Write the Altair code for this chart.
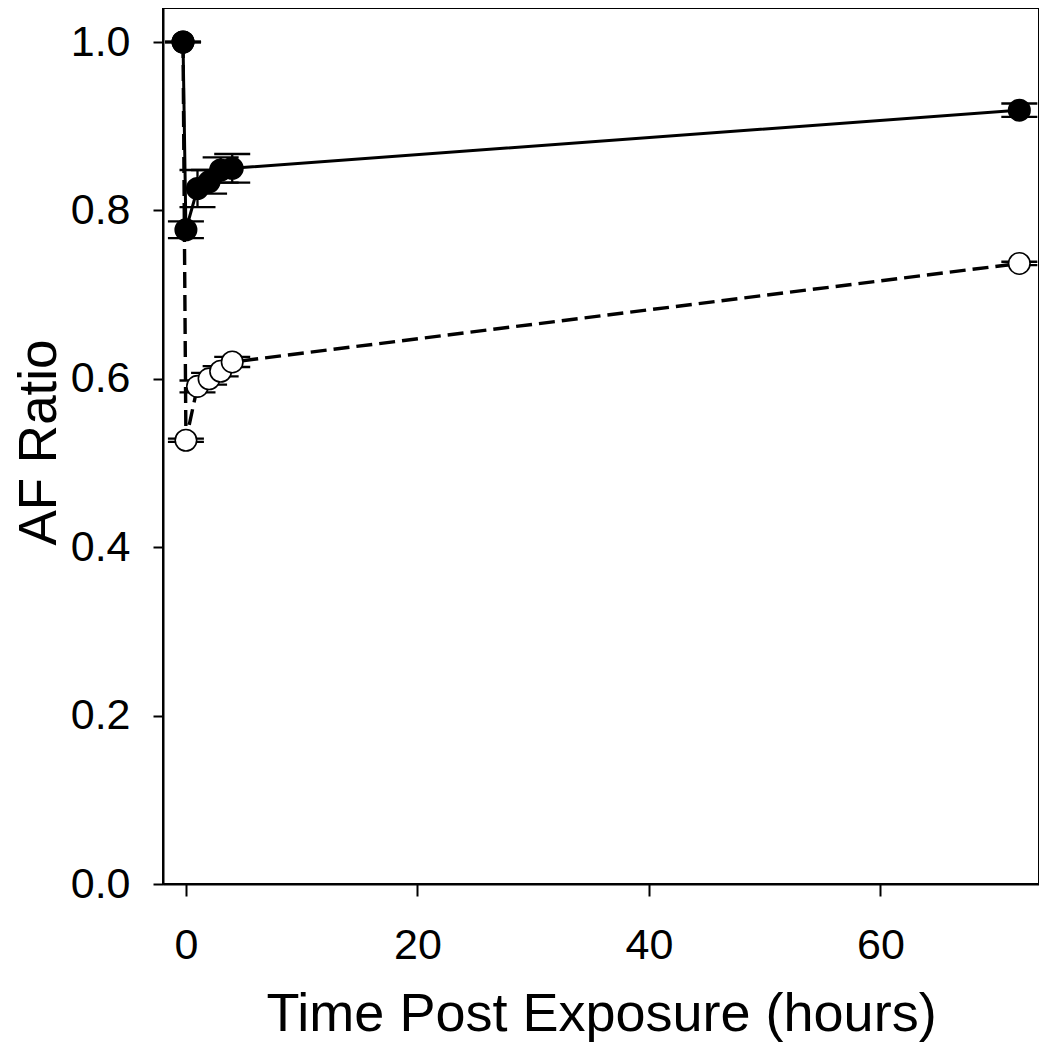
import altair as alt
import pandas as pd

# Data
time_filled = [-0.25, 0, 1, 2, 3, 4, 72]
af_filled = [1.0, 0.777, 0.826, 0.834, 0.848, 0.850, 0.919]
err_filled = [0.0, 0.010, 0.022, 0.014, 0.015, 0.017, 0.008]

time_open = [-0.25, 0, 1, 2, 3, 4, 72]
af_open = [1.0, 0.527, 0.591, 0.600, 0.609, 0.620, 0.737]
err_open = [0.0, 0.002, 0.007, 0.007, 0.006, 0.006, 0.002]

x_ticks = [0, 20, 40, 60]
y_ticks = [0.0, 0.2, 0.4, 0.6, 0.8, 1.0]

FONT = "Liberation Sans"

W, H = 876, 876


def make_df(t, v, e):
    df = pd.DataFrame({"t": t, "v": v, "e": e})
    df["lo"] = df["v"] - df["e"]
    df["hi"] = df["v"] + df["e"]
    return df


df_f = make_df(time_filled, af_filled, err_filled)
df_o = make_df(time_open, af_open, err_open)

xs = alt.Scale(domain=[-1.98, 73.7], nice=False, zero=False)
ys = alt.Scale(domain=[0, 1.0404], nice=False, zero=False)

x_axis = alt.Axis(values=x_ticks, grid=False, tickSize=12, tickWidth=2, tickColor="black",
                  labelFontSize=43, labelFont=FONT, labelColor="black", labelPadding=28,
                  domain=True, domainColor="black", domainWidth=2,
                  title="Time Post Exposure (hours)", titleFont=FONT, titleFontSize=54,
                  titleFontWeight="normal", titleColor="black", titleX=W / 2, titleY=146,
                  titleBaseline="alphabetic", titleAlign="center")
y_axis = alt.Axis(values=y_ticks, format=".1f", grid=False, tickSize=10, tickWidth=2,
                  tickColor="black", labelFontSize=43, labelFont=FONT, labelColor="black",
                  labelPadding=23, domain=True, domainColor="black", domainWidth=2,
                  title="AF Ratio", titleFont=FONT, titleFontSize=53, titleFontWeight="normal",
                  titleColor="black", titleX=-108, titleY=434, titleAngle=270,
                  titleBaseline="alphabetic", titleAlign="center")

XT = alt.X("t:Q", scale=xs, axis=x_axis)


def series(df, filled, dashed):
    base = alt.Chart(df)
    line_kw = dict(color="black", strokeWidth=3)
    if dashed:
        line_kw["strokeDash"] = [16, 7]
        line_kw["strokeWidth"] = 3.4
    line = base.mark_line(**line_kw).encode(x=XT, y=alt.Y("v:Q", scale=ys, axis=y_axis))
    bars = base.mark_rule(color="black", strokeWidth=2.3).encode(
        x=XT, y=alt.Y("lo:Q", scale=ys, axis=y_axis), y2="hi:Q")
    cap_hi = base.mark_rule(color="black", strokeWidth=2.3, xOffset=-18, x2Offset=18).encode(
        x=XT, x2="t:Q", y=alt.Y("hi:Q", scale=ys, axis=y_axis))
    cap_lo = base.mark_rule(color="black", strokeWidth=2.3, xOffset=-18, x2Offset=18).encode(
        x=XT, x2="t:Q", y=alt.Y("lo:Q", scale=ys, axis=y_axis))
    pts = base.mark_point(filled=True, size=460, opacity=1,
                          fill="black" if filled else "white",
                          stroke="black", strokeWidth=1.6, shape="circle").encode(
        x=XT, y=alt.Y("v:Q", scale=ys, axis=y_axis))
    return [line, bars, cap_hi, cap_lo, pts]


layers = series(df_o, filled=False, dashed=True) + series(df_f, filled=True, dashed=False)

chart = alt.layer(*layers).properties(
    width=W, height=H,
    background="white",
    autosize=alt.AutoSizeParams(type="none"),
    padding={"left": 155, "top": 0, "right": 0, "bottom": 158},
).configure_view(stroke="black", strokeWidth=2)

chart.save("out.html", embed_options={"renderer": "svg", "actions": False})
